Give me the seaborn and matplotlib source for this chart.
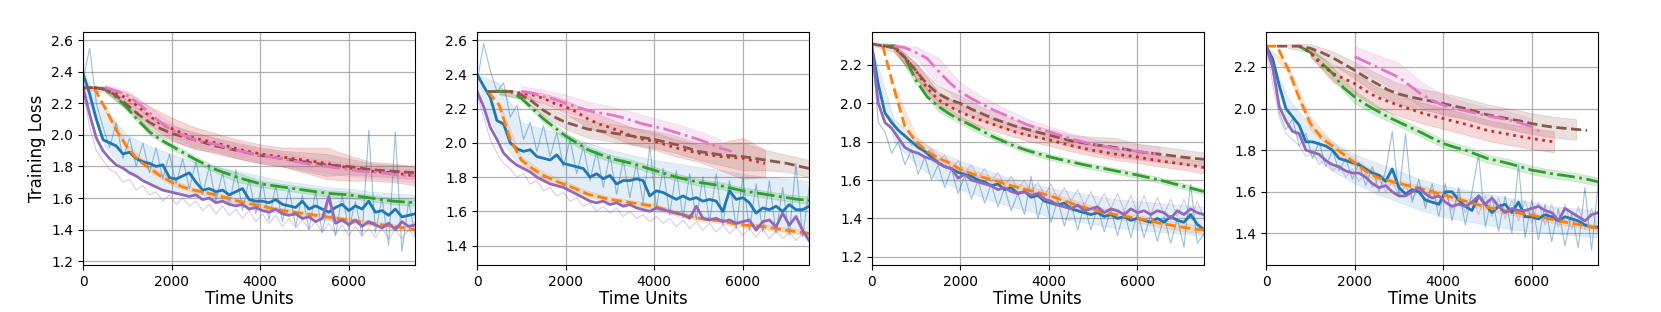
import numpy as np
import matplotlib
matplotlib.use("Agg")
import matplotlib.pyplot as plt
import seaborn as sns

nan = np.nan

# ---------------- panel 1 ----------------
p1_blue = [2.39, 2.26, 2.10, 1.97, 1.95, 1.93, 1.88, 1.89, 1.85, 1.83, 1.82, 1.80, 1.81, 1.73, 1.72, 1.74, 1.76,
           1.70, 1.65, 1.66, 1.64, 1.65, 1.62, 1.64, 1.66, 1.59, 1.58, 1.58, 1.57, 1.59, 1.56, 1.55, 1.54, 1.58,
           1.53, 1.55, 1.53, 1.51, 1.54, 1.56, 1.52, 1.55, 1.53, 1.58, 1.51, 1.52, 1.49, 1.53, 1.48, 1.49, 1.50]
p1_purple = [2.30, 2.13, 1.98, 1.90, 1.85, 1.81, 1.79, 1.76, 1.74, 1.71, 1.69, 1.67, 1.65, 1.64, 1.63, 1.62, 1.61,
             1.62, 1.59, 1.60, 1.57, 1.58, 1.56, 1.55, 1.56, 1.53, 1.54, 1.52, 1.51, 1.53, 1.50, 1.49, 1.50, 1.47,
             1.48, 1.45, 1.47, 1.61, 1.44, 1.46, 1.43, 1.46, 1.42, 1.45, 1.43, 1.41, 1.44, 1.40, 1.45, 1.42, 1.43]
p1_blue_raw = [2.35, 2.55, 2.20, 2.05, 1.92, 2.08, 1.85, 1.98, 1.80, 1.95, 1.76, 1.92, 1.72, 1.88, 1.69, 1.85, 1.66,
               1.83, 1.62, 1.80, 1.58, 1.76, 1.55, 1.78, 1.52, 1.72, 1.50, 1.70, 1.46, 1.68, 1.45, 1.66, 1.42, 1.62,
               1.40, 1.64, 1.38, 1.60, 1.36, 1.62, 1.40, 1.58, 1.36, 2.03, 1.38, 1.60, 1.30, 2.02, 1.26, 1.58, 1.36]
p1_purple_raw = [2.28, 2.05, 1.90, 1.84, 1.78, 1.76, 1.70, 1.72, 1.65, 1.68, 1.62, 1.64, 1.58, 1.62, 1.56, 1.60, 1.55,
                 1.58, 1.52, 1.56, 1.50, 1.55, 1.49, 1.53, 1.47, 1.52, 1.45, 1.50, 1.44, 1.49, 1.42, 1.47, 1.41, 1.46,
                 1.40, 1.45, 1.38, 1.44, 1.37, 1.43, 1.36, 1.42, 1.36, 1.41, 1.35, 1.41, 1.34, 1.40, 1.34, 1.40, 1.35]
p1_blue_lo = [2.30, 1.92, 1.76, 1.69, 1.64, 1.61, 1.58, 1.55, 1.52, 1.50, 1.48, 1.46, 1.44, 1.43, 1.42, 1.41]
p1_blue_hi = [2.40, 2.15, 2.00, 1.93, 1.88, 1.83, 1.80, 1.77, 1.74, 1.71, 1.69, 1.67, 1.66, 1.64, 1.63, 1.62]
p1_orange = [nan, 2.30, 2.17, 2.03, 1.92, 1.84, 1.79, 1.74, 1.70, 1.67, 1.65, 1.635, 1.62, 1.60, 1.58, 1.565,
             1.55, 1.535, 1.52, 1.51, 1.50, 1.49, 1.48, 1.47, 1.46, 1.45, 1.44, 1.43, 1.42, 1.41, 1.40]
p1_green = [nan, 2.30, 2.29, 2.24, 2.17, 2.09, 2.02, 1.97, 1.93, 1.89, 1.85, 1.815, 1.78, 1.755, 1.73, 1.71,
            1.69, 1.68, 1.67, 1.66, 1.65, 1.64, 1.63, 1.625, 1.62, 1.61, 1.60, 1.59, 1.58, 1.575, 1.57]
p1_red = [nan, 2.30, 2.29, 2.27, 2.23, 2.18, 2.12, 2.07, 2.04, 2.01, 1.98, 1.965, 1.95, 1.93, 1.91, 1.895,
          1.88, 1.87, 1.86, 1.85, 1.84, 1.83, 1.82, 1.805, 1.79, 1.78, 1.77, 1.765, 1.76, 1.75, 1.74]
p1_brown = [2.30, 2.30, 2.29, 2.25, 2.19, 2.13, 2.08, 2.04, 2.01, 1.99, 1.97, 1.95, 1.93, 1.915, 1.90, 1.885,
            1.87, 1.86, 1.85, 1.84, 1.83, 1.82, 1.81, 1.805, 1.80, 1.79, 1.78, 1.775, 1.77, 1.765, 1.76]
p1_pink = [nan, nan, 2.30, 2.28, 2.25, 2.20, 2.14, 2.08, 2.03, 2.00, 1.97, 1.955, 1.94, 1.92, 1.90, 1.885,
           1.87, 1.86, 1.85, 1.835, 1.82, 1.81, 1.80, 1.79, 1.78, 1.77, 1.765, 1.76, 1.75, 1.745, 1.74]
p1_orange_sd = [0, 0.02, 0.02, 0.02, 0.02, 0.015, 0.015, 0.015, 0.015, 0.015, 0.015, 0.015, 0.015, 0.015, 0.015, 0.015]
p1_green_sd = [0, 0.01, 0.02, 0.02, 0.02, 0.02, 0.02, 0.03, 0.02, 0.02, 0.02, 0.02, 0.02, 0.02, 0.02, 0.02]
p1_red_sd = [0.01, 0.02, 0.04, 0.06, 0.07, 0.07, 0.06, 0.06, 0.06, 0.06, 0.08, 0.10, 0.08, 0.06, 0.06, 0.06]
p1_brown_sd = [0.01, 0.02, 0.03, 0.04, 0.05, 0.05, 0.05, 0.05, 0.05, 0.05, 0.06, 0.07, 0.05, 0.04, 0.04, 0.04]
p1_pink_sd = [0.01, 0.02, 0.03, 0.04, 0.04, 0.04, 0.04, 0.04, 0.04, 0.04, 0.04, 0.04, 0.04, 0.04, 0.04, 0.04]

# ---------------- panel 2 ----------------
p2_blue = [2.40, 2.33, 2.265, 2.13, 2.11, 2.00, 1.965, 1.95, 1.96, 1.92, 1.91, 1.90, 1.93, 1.88, 1.87, 1.86, 1.85,
           1.80, 1.82, 1.79, 1.81, 1.76, 1.78, 1.78, 1.79, 1.78, 1.69, 1.72, 1.71, 1.69, 1.67, 1.69, 1.67, 1.68,
           1.66, 1.67, 1.66, 1.60, 1.72, 1.67, 1.68, 1.65, 1.59, 1.62, 1.61, 1.63, 1.60, 1.64, 1.61, 1.61, 1.63]
p2_purple = [2.30, 2.21, 2.09, 2.02, 1.94, 1.90, 1.87, 1.85, 1.83, 1.80, 1.78, 1.76, 1.75, 1.74, 1.72, 1.70, 1.68,
             1.66, 1.65, 1.66, 1.64, 1.65, 1.63, 1.64, 1.62, 1.61, 1.60, 1.62, 1.61, 1.60, 1.59, 1.58, 1.56, 1.63,
             1.56, 1.55, 1.56, 1.54, 1.55, 1.53, 1.54, 1.55, 1.49, 1.54, 1.55, 1.51, 1.59, 1.52, 1.57, 1.49, 1.43]
p2_blue_raw = [2.35, 2.58, 2.42, 2.30, 2.35, 2.15, 2.22, 2.02, 2.12, 1.95, 2.10, 1.92, 2.06, 1.86, 2.02, 1.82, 1.98,
               1.78, 1.95, 1.74, 1.93, 1.70, 1.90, 1.68, 1.88, 1.65, 1.98, 1.62, 1.85, 1.58, 1.84, 1.56, 1.82, 1.55,
               1.80, 1.54, 1.82, 1.52, 1.78, 1.50, 1.80, 1.49, 1.76, 1.48, 1.78, 1.47, 1.74, 1.46, 1.88, 1.45, 1.74]
p2_purple_raw = [2.28, 2.15, 2.02, 1.94, 1.88, 1.85, 1.80, 1.82, 1.76, 1.78, 1.72, 1.74, 1.69, 1.71, 1.66, 1.68, 1.63,
                 1.65, 1.60, 1.63, 1.59, 1.62, 1.57, 1.60, 1.56, 1.58, 1.54, 1.57, 1.53, 1.56, 1.51, 1.55, 1.50, 1.54,
                 1.49, 1.53, 1.48, 1.52, 1.47, 1.51, 1.46, 1.50, 1.45, 1.50, 1.44, 1.49, 1.44, 1.48, 1.43, 1.47, 1.42]
p2_blue_lo = [2.30, 2.02, 1.86, 1.78, 1.73, 1.69, 1.66, 1.63, 1.60, 1.58, 1.56, 1.54, 1.52, 1.50, 1.48, 1.46]
p2_blue_hi = [2.40, 2.35, 2.12, 2.08, 2.05, 2.00, 1.96, 1.93, 1.90, 1.88, 1.86, 1.84, 1.82, 1.80, 1.79, 1.78]
p2_orange = [nan, 2.30, 2.22, 2.02, 1.90, 1.85, 1.81, 1.78, 1.755, 1.73, 1.70, 1.685, 1.67, 1.66, 1.65, 1.64,
             1.63, 1.61, 1.59, 1.575, 1.56, 1.55, 1.545, 1.53, 1.52, 1.515, 1.51, 1.50, 1.49, 1.48, 1.47]
p2_green = [nan, 2.30, 2.30, 2.30, 2.26, 2.20, 2.14, 2.09, 2.04, 2.00, 1.96, 1.935, 1.91, 1.895, 1.88, 1.86,
            1.84, 1.82, 1.80, 1.785, 1.77, 1.76, 1.75, 1.735, 1.72, 1.71, 1.70, 1.69, 1.68, 1.67, 1.665]
p2_red = [nan, nan, nan, 2.30, 2.29, 2.28, 2.26, 2.23, 2.21, 2.18, 2.14, 2.11, 2.09, 2.065, 2.04, 2.02,
          2.01, 1.99, 1.97, 1.955, 1.94, 1.93, 1.92, 1.915, 1.91, 1.895, 1.88, nan, nan, nan, nan]
p2_brown = [nan, 2.30, 2.30, 2.30, 2.28, 2.24, 2.19, 2.15, 2.12, 2.10, 2.08, 2.07, 2.06, 2.05, 2.04, 2.03,
            2.02, 2.005, 1.99, 1.97, 1.95, 1.94, 1.93, 1.925, 1.92, 1.91, 1.90, 1.89, 1.88, 1.865, 1.85]
p2_pink = [nan, nan, nan, nan, 2.30, 2.29, 2.27, 2.255, 2.23, 2.21, 2.19, 2.175, 2.165, 2.15, 2.13, 2.11,
           2.095, 2.08, 2.06, 2.04, 2.02, 1.995, 1.97, 1.95, nan, nan, nan, nan, nan, nan, nan]
p2_orange_sd = [0, 0.02, 0.02, 0.02, 0.02, 0.02, 0.015, 0.015, 0.015, 0.015, 0.015, 0.015, 0.015, 0.015, 0.015, 0.015]
p2_green_sd = [0, 0.01, 0.01, 0.02, 0.02, 0.02, 0.02, 0.02, 0.02, 0.02, 0.02, 0.02, 0.02, 0.02, 0.02, 0.02]
p2_red_sd = [0, 0.02, 0.02, 0.03, 0.04, 0.05, 0.05, 0.05, 0.05, 0.05, 0.05, 0.08, 0.12, 0.08, 0.06, 0.05]
p2_brown_sd = [0, 0.02, 0.02, 0.03, 0.04, 0.05, 0.05, 0.05, 0.05, 0.05, 0.05, 0.06, 0.08, 0.06, 0.05, 0.05]
p2_pink_sd = [0, 0.02, 0.03, 0.04, 0.05, 0.05, 0.05, 0.05, 0.05, 0.05, 0.05, 0.05, 0.05, 0.05, 0.05, 0.05]

# ---------------- panel 3 ----------------
p3_blue = [2.30, 2.10, 1.95, 1.90, 1.86, 1.83, 1.80, 1.77, 1.75, 1.72, 1.69, 1.67, 1.66, 1.64, 1.63, 1.62, 1.60,
           1.59, 1.57, 1.58, 1.55, 1.56, 1.53, 1.54, 1.51, 1.52, 1.49, 1.48, 1.47, 1.48, 1.45, 1.44, 1.43, 1.42,
           1.43, 1.41, 1.42, 1.40, 1.41, 1.39, 1.40, 1.39, 1.38, 1.40, 1.38, 1.41, 1.39, 1.38, 1.42, 1.37, 1.34]
p3_purple = [2.30, 2.00, 1.90, 1.87, 1.82, 1.77, 1.75, 1.74, 1.72, 1.71, 1.69, 1.67, 1.66, 1.61, 1.63, 1.60, 1.59,
             1.58, 1.57, 1.55, 1.56, 1.54, 1.53, 1.54, 1.52, 1.53, 1.50, 1.49, 1.47, 1.46, 1.45, 1.47, 1.44, 1.45,
             1.46, 1.43, 1.45, 1.44, 1.42, 1.45, 1.43, 1.44, 1.42, 1.44, 1.43, 1.40, 1.44, 1.42, 1.45, 1.43, 1.42]
p3_blue_raw = [2.30, 1.90, 1.85, 1.74, 1.80, 1.68, 1.76, 1.63, 1.72, 1.60, 1.68, 1.56, 1.66, 1.53, 1.62, 1.50, 1.60,
               1.48, 1.58, 1.46, 1.56, 1.44, 1.53, 1.42, 1.62, 1.40, 1.52, 1.38, 1.50, 1.36, 1.48, 1.34, 1.47, 1.34,
               1.46, 1.33, 1.45, 1.31, 1.44, 1.30, 1.43, 1.30, 1.42, 1.28, 1.41, 1.27, 1.40, 1.25, 1.58, 1.27, 1.32]
p3_purple_raw = [2.30, 2.05, 1.95, 1.92, 1.86, 1.84, 1.78, 1.80, 1.74, 1.76, 1.70, 1.73, 1.66, 1.70, 1.64, 1.68, 1.61,
                 1.66, 1.59, 1.64, 1.57, 1.62, 1.55, 1.60, 1.53, 1.59, 1.52, 1.58, 1.50, 1.56, 1.49, 1.55, 1.47, 1.54,
                 1.46, 1.53, 1.45, 1.53, 1.44, 1.52, 1.43, 1.52, 1.42, 1.51, 1.42, 1.50, 1.41, 1.50, 1.40, 1.49, 1.40]
p3_blue_lo = [2.30, 1.80, 1.68, 1.60, 1.55, 1.51, 1.47, 1.44, 1.41, 1.39, 1.37, 1.35, 1.34, 1.33, 1.32, 1.31]
p3_blue_hi = [2.30, 1.92, 1.82, 1.75, 1.70, 1.66, 1.62, 1.59, 1.56, 1.54, 1.52, 1.50, 1.49, 1.48, 1.47, 1.46]
p3_orange = [nan, 2.30, 2.08, 1.88, 1.80, 1.75, 1.715, 1.69, 1.655, 1.635, 1.615, 1.60, 1.58, 1.565, 1.55, 1.535,
             1.52, 1.50, 1.48, 1.46, 1.445, 1.43, 1.42, 1.41, 1.40, 1.39, 1.375, 1.365, 1.355, 1.345, 1.34]
p3_green = [nan, 2.30, 2.30, 2.24, 2.12, 2.035, 1.985, 1.945, 1.913, 1.885, 1.855, 1.825, 1.80, 1.775, 1.755, 1.738,
            1.722, 1.708, 1.695, 1.682, 1.67, 1.66, 1.648, 1.637, 1.626, 1.613, 1.60, 1.585, 1.57, 1.555, 1.54]
p3_red = [nan, 2.30, 2.29, 2.24, 2.17, 2.08, 2.02, 1.985, 1.955, 1.93, 1.91, 1.89, 1.87, 1.85, 1.835, 1.822,
          1.81, 1.795, 1.78, 1.767, 1.755, 1.745, 1.735, 1.728, 1.72, 1.71, 1.70, 1.692, 1.685, 1.675, 1.665]
p3_brown = [2.31, 2.30, 2.29, 2.24, 2.17, 2.10, 2.05, 2.02, 2.00, 1.97, 1.945, 1.92, 1.90, 1.88, 1.865, 1.85,
            1.835, 1.82, 1.805, 1.795, 1.785, 1.778, 1.77, 1.76, 1.748, 1.742, 1.735, 1.728, 1.72, 1.714, 1.708]
p3_pink = [nan, nan, 2.30, 2.29, 2.265, 2.235, 2.17, 2.11, 2.06, 2.025, 1.995, 1.965, 1.94, 1.915, 1.89, 1.87,
           1.852, 1.833, 1.815, 1.80, 1.785, 1.775, 1.765, 1.757, 1.75, 1.742, 1.735, nan, nan, nan, nan]
p3_orange_sd = [0, 0.02, 0.03, 0.02, 0.02, 0.02, 0.02, 0.02, 0.02, 0.02, 0.02, 0.02, 0.02, 0.02, 0.02, 0.02]
p3_green_sd = [0, 0.01, 0.02, 0.025, 0.02, 0.02, 0.015, 0.015, 0.015, 0.015, 0.015, 0.015, 0.015, 0.015, 0.015, 0.015]
p3_red_sd = [0, 0.02, 0.04, 0.04, 0.04, 0.035, 0.03, 0.03, 0.03, 0.03, 0.03, 0.03, 0.03, 0.03, 0.03, 0.03]
p3_brown_sd = [0.01, 0.02, 0.04, 0.04, 0.04, 0.035, 0.03, 0.03, 0.03, 0.03, 0.04, 0.05, 0.04, 0.04, 0.04, 0.035]
p3_pink_sd = [0, 0.01, 0.03, 0.07, 0.05, 0.04, 0.035, 0.03, 0.03, 0.03, 0.03, 0.03, 0.04, 0.04, 0.04, 0.04]

# ---------------- panel 4 ----------------
p4_blue = [2.30, 2.24, 2.11, 2.00, 1.96, 1.92, 1.84, 1.84, 1.83, 1.82, 1.80, 1.76, 1.75, 1.74, 1.73, 1.71, 1.69,
           1.68, 1.65, 1.71, 1.62, 1.59, 1.61, 1.60, 1.56, 1.55, 1.54, 1.60, 1.60, 1.56, 1.53, 1.51, 1.58, 1.54,
           1.50, 1.53, 1.54, 1.50, 1.55, 1.48, 1.48, 1.47, 1.49, 1.48, 1.46, 1.48, 1.47, 1.46, 1.44, 1.43, 1.43]
p4_purple = [2.30, 2.20, 2.01, 1.94, 1.89, 1.88, 1.80, 1.79, 1.78, 1.75, 1.73, 1.72, 1.70, 1.69, 1.69, 1.67, 1.64,
             1.62, 1.63, 1.60, 1.58, 1.58, 1.60, 1.62, 1.59, 1.57, 1.58, 1.55, 1.53, 1.54, 1.53, 1.55, 1.58, 1.54,
             1.57, 1.53, 1.50, 1.52, 1.51, 1.51, 1.52, 1.53, 1.51, 1.50, 1.46, 1.52, 1.50, 1.48, 1.46, 1.49, 1.50]
p4_blue_raw = [2.30, 2.18, 1.98, 1.90, 1.95, 1.82, 1.88, 1.76, 1.84, 1.72, 1.80, 1.70, 1.76, 1.66, 1.74, 1.63, 1.72,
               1.60, 1.70, 1.89, 1.58, 1.88, 1.55, 1.66, 1.52, 1.64, 1.48, 1.64, 1.46, 1.62, 1.44, 1.60, 1.78, 1.43,
               1.58, 1.41, 1.58, 1.40, 1.73, 1.38, 1.56, 1.37, 1.54, 1.36, 1.52, 1.34, 1.50, 1.33, 1.62, 1.32, 1.64]
p4_purple_raw = [2.30, 2.12, 1.96, 1.88, 1.85, 1.82, 1.77, 1.79, 1.73, 1.76, 1.70, 1.73, 1.67, 1.71, 1.65, 1.69, 1.62,
                 1.67, 1.60, 1.65, 1.58, 1.63, 1.56, 1.62, 1.54, 1.61, 1.53, 1.60, 1.51, 1.59, 1.50, 1.58, 1.49, 1.58,
                 1.48, 1.57, 1.47, 1.56, 1.46, 1.56, 1.45, 1.55, 1.44, 1.54, 1.43, 1.54, 1.42, 1.53, 1.42, 1.52, 1.41]
p4_blue_lo = [2.30, 1.92, 1.78, 1.70, 1.64, 1.59, 1.55, 1.51, 1.48, 1.46, 1.44, 1.42, 1.41, 1.40, 1.39, 1.38]
p4_blue_hi = [2.30, 2.05, 1.92, 1.84, 1.78, 1.74, 1.70, 1.66, 1.63, 1.61, 1.59, 1.57, 1.55, 1.53, 1.52, 1.51]
p4_orange = [2.30, 2.30, 2.19, 2.05, 1.93, 1.86, 1.82, 1.78, 1.74, 1.70, 1.67, 1.655, 1.64, 1.628, 1.615, 1.60,
             1.585, 1.57, 1.555, 1.54, 1.525, 1.515, 1.505, 1.496, 1.488, 1.476, 1.465, 1.455, 1.445, 1.435, 1.424]
p4_green = [nan, nan, nan, 2.30, 2.27, 2.22, 2.17, 2.10, 2.056, 2.02, 1.99, 1.96, 1.935, 1.91, 1.885, 1.858,
            1.832, 1.815, 1.80, 1.78, 1.76, 1.748, 1.735, 1.72, 1.704, 1.695, 1.685, 1.678, 1.67, 1.66, 1.648]
p4_red = [nan, nan, nan, 2.30, 2.27, 2.21, 2.17, 2.145, 2.12, 2.085, 2.055, 2.035, 2.015, 1.998, 1.98, 1.965,
          1.952, 1.938, 1.925, 1.91, 1.895, 1.885, 1.875, 1.865, 1.856, 1.848, 1.84, nan, nan, nan, nan]
p4_brown = [nan, 2.30, 2.30, 2.30, 2.29, 2.27, 2.245, 2.215, 2.184, 2.15, 2.12, 2.09, 2.07, 2.056, 2.045, 2.035,
            2.024, 2.012, 2.00, 1.985, 1.97, 1.96, 1.95, 1.94, 1.928, 1.918, 1.91, 1.905, 1.90, 1.895, nan]
p4_pink = [nan, nan, nan, nan, nan, nan, nan, nan, 2.25, 2.225, 2.20, 2.175, 2.15, 2.11, 2.07, 2.04,
           2.016, 2.00, 1.99, 1.977, 1.965, 1.955, 1.945, 1.93, 1.912, 1.88, nan, nan, nan, nan, nan]
p4_orange_sd = [0, 0.02, 0.03, 0.02, 0.02, 0.02, 0.015, 0.015, 0.015, 0.015, 0.015, 0.015, 0.015, 0.015, 0.015, 0.015]
p4_green_sd = [0, 0, 0.02, 0.03, 0.03, 0.025, 0.02, 0.02, 0.02, 0.02, 0.02, 0.02, 0.02, 0.02, 0.02, 0.02]
p4_red_sd = [0, 0.01, 0.02, 0.04, 0.05, 0.05, 0.05, 0.05, 0.05, 0.05, 0.05, 0.05, 0.05, 0.05, 0.05, 0.05]
p4_brown_sd = [0, 0.01, 0.02, 0.03, 0.04, 0.05, 0.05, 0.05, 0.05, 0.05, 0.05, 0.05, 0.05, 0.05, 0.05, 0.05]
p4_pink_sd = [0, 0, 0, 0, 0.05, 0.06, 0.07, 0.06, 0.05, 0.04, 0.04, 0.04, 0.04, 0.04, 0.04, 0.04]

ylims = [(1.175, 2.653), (1.287, 2.647), (1.157, 2.372), (1.248, 2.368)]
lefts = [0.050, 0.2872, 0.5248, 0.7622]

panels = [
    (p1_blue, p1_blue_raw, p1_blue_lo, p1_blue_hi, p1_purple, p1_purple_raw,
     [p1_orange, p1_green, p1_red, p1_brown, p1_pink],
     [p1_orange_sd, p1_green_sd, p1_red_sd, p1_brown_sd, p1_pink_sd]),
    (p2_blue, p2_blue_raw, p2_blue_lo, p2_blue_hi, p2_purple, p2_purple_raw,
     [p2_orange, p2_green, p2_red, p2_brown, p2_pink],
     [p2_orange_sd, p2_green_sd, p2_red_sd, p2_brown_sd, p2_pink_sd]),
    (p3_blue, p3_blue_raw, p3_blue_lo, p3_blue_hi, p3_purple, p3_purple_raw,
     [p3_orange, p3_green, p3_red, p3_brown, p3_pink],
     [p3_orange_sd, p3_green_sd, p3_red_sd, p3_brown_sd, p3_pink_sd]),
    (p4_blue, p4_blue_raw, p4_blue_lo, p4_blue_hi, p4_purple, p4_purple_raw,
     [p4_orange, p4_green, p4_red, p4_brown, p4_pink],
     [p4_orange_sd, p4_green_sd, p4_red_sd, p4_brown_sd, p4_pink_sd]),
]

pal = sns.color_palette("tab10")
smooth_colors = [pal[1], pal[2], pal[3], pal[5], pal[6]]
smooth_styles = ["--", "-.", ":", "--", "-."]

plt.rcParams["axes.grid"] = True
plt.rcParams["grid.color"] = "#b0b0b0"
plt.rcParams["grid.linewidth"] = 0.9

fig = plt.figure(figsize=(16.61, 3.12), dpi=100)

for i, (blue, blue_raw, blue_lo, blue_hi, purple, purple_raw, curves, sds) in enumerate(panels):
    ax = fig.add_axes([lefts[i], 0.1506, 0.2000, 0.7468])
    t_fine = np.linspace(0, 7500, len(blue))
    t250 = np.linspace(0, 7500, 31)
    t500 = np.linspace(0, 7500, 16)

    # shaded spread
    ax.fill_between(t500, blue_lo, blue_hi, color=pal[0], alpha=0.13, linewidth=0.5)
    for m, sd, c in zip(curves, sds, smooth_colors):
        mm = np.array(m)[::2]
        sd = np.array(sd)
        ax.fill_between(t500, mm - sd, mm + sd, color=c, alpha=0.18, linewidth=0.6)

    # raw (unsmoothed) traces
    sns.lineplot(x=t_fine, y=blue_raw, ax=ax, color=pal[0], linewidth=0.8, alpha=0.45, estimator=None)
    sns.lineplot(x=t_fine, y=purple_raw, ax=ax, color=pal[4], linewidth=0.8, alpha=0.35, estimator=None)

    # main curves in the tab10 order
    sns.lineplot(x=t_fine, y=blue, ax=ax, color=pal[0], linewidth=2, estimator=None)
    sns.lineplot(x=t250, y=curves[0], ax=ax, color=pal[1], linewidth=2, linestyle="--", estimator=None)
    sns.lineplot(x=t250, y=curves[1], ax=ax, color=pal[2], linewidth=2, linestyle="-.", estimator=None)
    sns.lineplot(x=t250, y=curves[2], ax=ax, color=pal[3], linewidth=2, linestyle=":", estimator=None)
    sns.lineplot(x=t_fine, y=purple, ax=ax, color=pal[4], linewidth=2, estimator=None)
    sns.lineplot(x=t250, y=curves[3], ax=ax, color=pal[5], linewidth=2, linestyle="--", estimator=None)
    sns.lineplot(x=t250, y=curves[4], ax=ax, color=pal[6], linewidth=2, linestyle="-.", estimator=None)

    ax.set_xlim(0, 7500)
    ax.set_ylim(*ylims[i])
    ax.set_xticks([0, 2000, 4000, 6000])
    ax.tick_params(labelsize=10)
    ax.set_xlabel("Time Units", fontsize=12, labelpad=1)
    if i == 0:
        ax.set_ylabel("Training Loss", fontsize=12)
    else:
        ax.set_ylabel("")
    ax.set_axisbelow(True)

fig.savefig("out.png", dpi=100)
